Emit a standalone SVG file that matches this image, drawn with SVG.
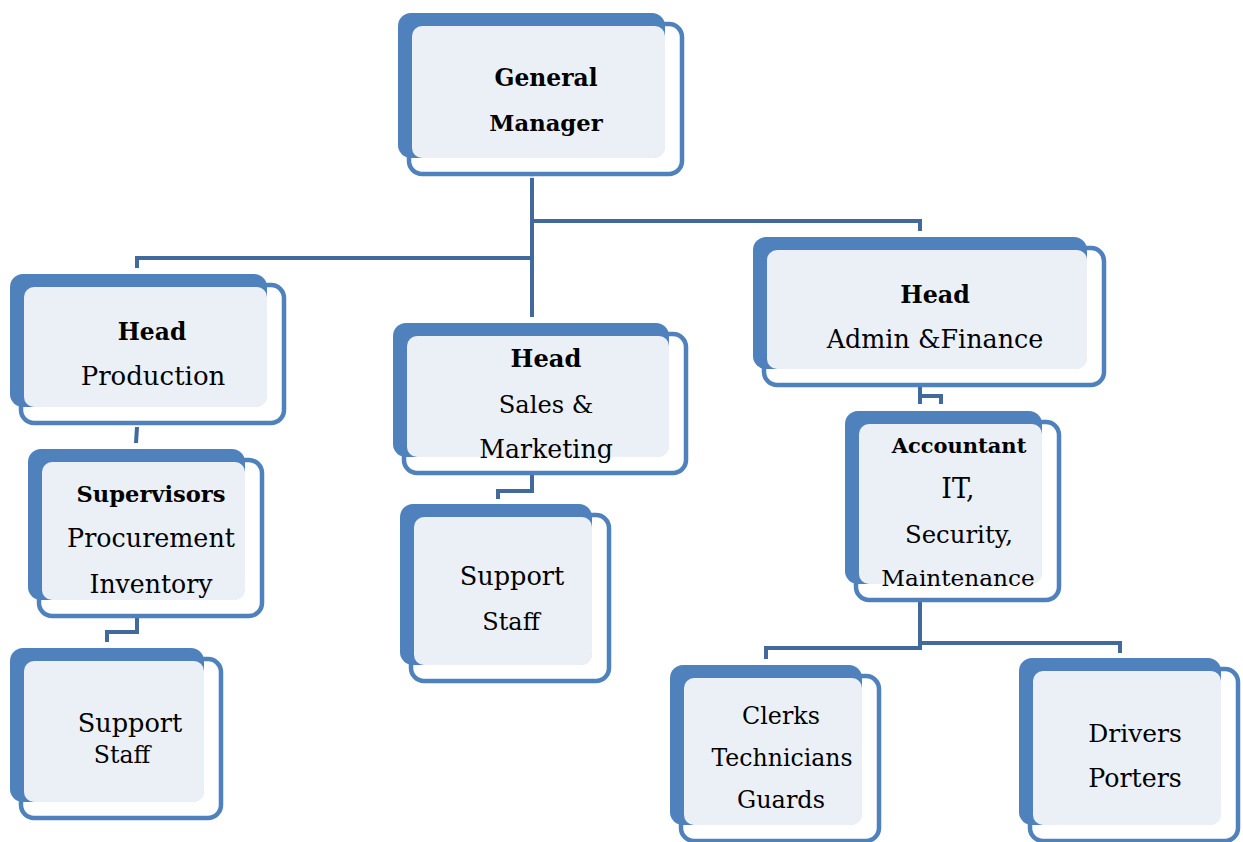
<svg xmlns="http://www.w3.org/2000/svg" width="1243" height="842" viewBox="0 0 1243 842">
<style>
.ol{fill:#ffffff;stroke:#4F81BD;stroke-width:4.5}
.bk{fill:#4F81BD}
.lt{fill:#EBF0F7}
.cn{fill:none;stroke:#41699B;stroke-width:4;stroke-linejoin:miter}
.fn{fill:none;stroke:#E3E8F1;stroke-width:4}
text{font-family:"DejaVu Serif","Liberation Serif",serif;fill:#000;text-anchor:middle}
.b{font-weight:bold}
</style>
<rect width="1243" height="842" fill="#ffffff"/>
<g id="connectors">
<path class="fn" d="M532,165V178 M137,412V425 M137,606V618 M532,462V475 M920,375V387 M920,590V602"/>
<path class="cn" d="M532,178V317 M532,258H137V268 M532,221H920V231"/>
<path class="cn" d="M137,427L136,443"/>
<path class="cn" d="M137,618V632H107V642"/>
<path class="cn" d="M532,475V491H498V499"/>
<path class="cn" d="M920,387V404 M920,396H941V404"/>
<path class="cn" d="M920,602V648H766V659 M920,643H1120V653"/>
</g>
<g id="gm">
<rect class="ol" x="409" y="24" width="273" height="150" rx="13"/>
<rect class="bk" x="398" y="13" width="267" height="145" rx="13"/>
<rect class="lt" x="412" y="26" width="253" height="132" rx="10"/>
<text class="b" x="546" y="86" font-size="23.4">General</text>
<text class="b" x="546" y="131" font-size="22.7">Manager</text>
</g>
<g id="head-production">
<rect class="ol" x="21" y="285" width="263" height="138" rx="13"/>
<rect class="bk" x="10" y="274" width="257" height="133" rx="13"/>
<rect class="lt" x="24" y="287" width="243" height="120" rx="10"/>
<text class="b" x="152" y="340" font-size="23.4">Head</text>
<text x="153" y="385" font-size="26">Production</text>
</g>
<g id="head-sales">
<rect class="ol" x="404" y="334" width="282" height="139" rx="13"/>
<rect class="bk" x="393" y="323" width="276" height="134" rx="13"/>
<rect class="lt" x="407" y="336" width="262" height="121" rx="10"/>
<text class="b" x="546" y="367" font-size="24.2">Head</text>
<text x="546" y="413" font-size="24.2">Sales &amp;</text>
<text x="546" y="458" font-size="25.2">Marketing</text>
</g>
<g id="head-admin">
<rect class="ol" x="764" y="248" width="340" height="137" rx="13"/>
<rect class="bk" x="753" y="237" width="334" height="132" rx="13"/>
<rect class="lt" x="767" y="250" width="320" height="119" rx="10"/>
<text class="b" x="935" y="303" font-size="23.8">Head</text>
<text x="935" y="348" font-size="25.4">Admin &amp;Finance</text>
</g>
<g id="accountant">
<rect class="ol" x="856" y="422" width="203" height="178" rx="13"/>
<rect class="bk" x="845" y="411" width="197" height="173" rx="13"/>
<rect class="lt" x="859" y="424" width="183" height="160" rx="10"/>
<text class="b" x="959" y="453" font-size="21">Accountant</text>
<text x="958" y="498" font-size="27">IT,</text>
<text x="959" y="543" font-size="24.4">Security,</text>
<text x="958" y="586" font-size="23.2">Maintenance</text>
</g>
<g id="supervisors">
<rect class="ol" x="39" y="460" width="223" height="156" rx="13"/>
<rect class="bk" x="28" y="449" width="217" height="151" rx="13"/>
<rect class="lt" x="42" y="462" width="203" height="138" rx="10"/>
<text class="b" x="151" y="502" font-size="22.6">Supervisors</text>
<text x="151" y="547" font-size="25.4">Procurement</text>
<text x="151" y="593" font-size="25.2">Inventory</text>
</g>
<g id="support-left">
<rect class="ol" x="21" y="659" width="200" height="159" rx="13"/>
<rect class="bk" x="10" y="648" width="194" height="154" rx="13"/>
<rect class="lt" x="24" y="661" width="180" height="141" rx="10"/>
<text x="130" y="732" font-size="25.6">Support</text>
<text x="122" y="763" font-size="23.6">Staff</text>
</g>
<g id="support-mid">
<rect class="ol" x="411" y="515" width="198" height="166" rx="13"/>
<rect class="bk" x="400" y="504" width="192" height="161" rx="13"/>
<rect class="lt" x="414" y="517" width="178" height="148" rx="10"/>
<text x="512" y="585" font-size="25.6">Support</text>
<text x="511" y="630" font-size="24">Staff</text>
</g>
<g id="clerks">
<rect class="ol" x="681" y="676" width="198" height="165" rx="13"/>
<rect class="bk" x="670" y="665" width="192" height="160" rx="13"/>
<rect class="lt" x="684" y="678" width="178" height="147" rx="10"/>
<text x="781" y="724" font-size="23.8">Clerks</text>
<text x="782" y="766" font-size="23.6">Technicians</text>
<text x="781" y="808" font-size="24">Guards</text>
</g>
<g id="drivers">
<rect class="ol" x="1030" y="669" width="208" height="172" rx="13"/>
<rect class="bk" x="1019" y="658" width="202" height="167" rx="13"/>
<rect class="lt" x="1033" y="671" width="188" height="154" rx="10"/>
<text x="1135" y="742" font-size="25">Drivers</text>
<text x="1135" y="787" font-size="25.3">Porters</text>
</g>
</svg>
